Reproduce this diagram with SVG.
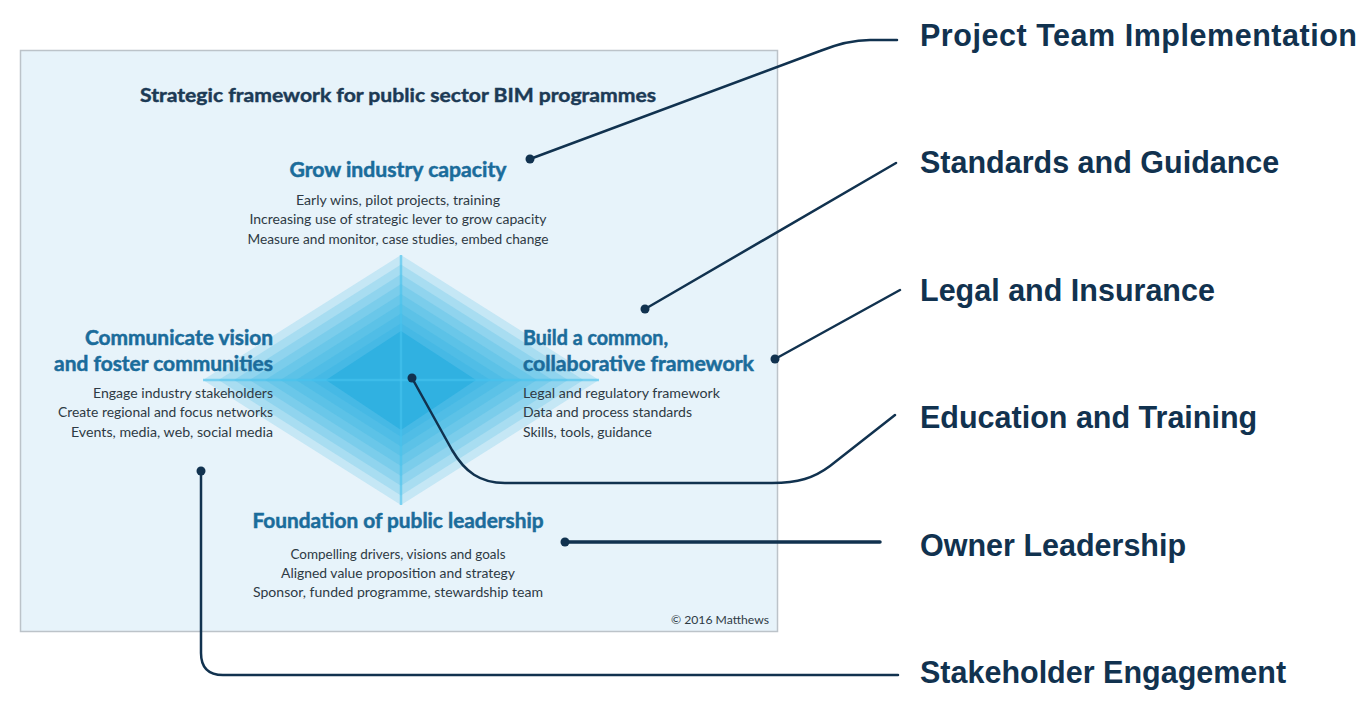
<svg xmlns="http://www.w3.org/2000/svg" width="1370" height="720" viewBox="0 0 1370 720">
<style>
.title{font-family:Lato,"Open Sans","Liberation Sans",sans-serif;font-weight:700;font-size:19.5px;fill:#1c3a55;stroke:#1c3a55;stroke-width:0.45}
.head{font-family:Lato,"Open Sans","Liberation Sans",sans-serif;font-weight:700;font-size:20px;fill:#1b6c9b;stroke:#1b6c9b;stroke-width:0.5}
.body{font-family:Lato,"Open Sans","Liberation Sans",sans-serif;font-size:13.5px;fill:#2e3a44}
.copy{font-family:Lato,"Open Sans","Liberation Sans",sans-serif;font-size:11.5px;fill:#2e3a44}
.label{font-family:"Liberation Sans",Arial,sans-serif;font-weight:700;font-size:30.5px;fill:#11324f}
.conn{fill:none;stroke:#11324f;stroke-width:2.5;stroke-linecap:round;stroke-linejoin:round}
.dot{fill:#11324f}
.lay{fill:#14a7de;fill-opacity:0.16}
</style>
<rect width="1370" height="720" fill="#ffffff"/>
<g id="panel">
<rect x="20.5" y="50.5" width="757" height="581" fill="#e7f3fa" stroke="#bcc3c9" stroke-width="1.5"/>
</g>
<g id="diamond">
<polygon class="lay" points="401,255 599,380 401,505 203,380"/>
<polygon class="lay" points="401,264.5 583.5,380 401,495.5 218.5,380"/>
<polygon class="lay" points="401,274.3 568,380 401,485.7 234,380"/>
<polygon class="lay" points="401,284.1 552.5,380 401,475.9 249.5,380"/>
<polygon class="lay" points="401,293.9 537,380 401,466.1 265,380"/>
<polygon class="lay" points="401,303.7 521.5,380 401,456.3 280.5,380"/>
<polygon class="lay" points="401,313.5 506,380 401,446.5 296,380"/>
<polygon class="lay" points="401,323.3 490.5,380 401,436.7 311.5,380"/>
<polygon points="401,331 476,380 401,430 326,380" fill="#0ea4dc" fill-opacity="0.4"/>
<line x1="401" y1="255" x2="401" y2="505" stroke="#46c3ef" stroke-width="2.5" stroke-opacity="0.6"/>
<line x1="203" y1="380" x2="599" y2="380" stroke="#46c3ef" stroke-width="2.5" stroke-opacity="0.6"/>
</g>
<g id="title">
<text class="title" x="398" y="102" text-anchor="middle" textLength="516" lengthAdjust="spacingAndGlyphs">Strategic framework for public sector BIM programmes</text>
</g>
<g id="node-grow">
<text class="head" x="398" y="177" text-anchor="middle" textLength="217" lengthAdjust="spacingAndGlyphs">Grow industry capacity</text>
<text class="body" x="398" y="205" text-anchor="middle" textLength="204" lengthAdjust="spacingAndGlyphs">Early wins, pilot projects, training</text>
<text class="body" x="398" y="224" text-anchor="middle" textLength="297" lengthAdjust="spacingAndGlyphs">Increasing use of strategic lever to grow capacity</text>
<text class="body" x="398" y="244" text-anchor="middle" textLength="301" lengthAdjust="spacingAndGlyphs">Measure and monitor, case studies, embed change</text>
</g>
<g id="node-communicate">
<text class="head" x="273" y="345" text-anchor="end" textLength="188" lengthAdjust="spacingAndGlyphs">Communicate vision</text>
<text class="head" x="273" y="371" text-anchor="end" textLength="219" lengthAdjust="spacingAndGlyphs">and foster communities</text>
<text class="body" x="273" y="398" text-anchor="end" textLength="180" lengthAdjust="spacingAndGlyphs">Engage industry stakeholders</text>
<text class="body" x="273" y="417" text-anchor="end" textLength="215" lengthAdjust="spacingAndGlyphs">Create regional and focus networks</text>
<text class="body" x="273" y="437" text-anchor="end" textLength="202" lengthAdjust="spacingAndGlyphs">Events, media, web, social media</text>
</g>
<g id="node-build">
<text class="head" x="523" y="345" textLength="145" lengthAdjust="spacingAndGlyphs">Build a common,</text>
<text class="head" x="523" y="371" textLength="231" lengthAdjust="spacingAndGlyphs">collaborative framework</text>
<text class="body" x="523" y="398" textLength="197" lengthAdjust="spacingAndGlyphs">Legal and regulatory framework</text>
<text class="body" x="523" y="417" textLength="169" lengthAdjust="spacingAndGlyphs">Data and process standards</text>
<text class="body" x="523" y="437" textLength="129" lengthAdjust="spacingAndGlyphs">Skills, tools, guidance</text>
</g>
<g id="node-foundation">
<text class="head" x="398" y="528" text-anchor="middle" textLength="291" lengthAdjust="spacingAndGlyphs">Foundation of public leadership</text>
<text class="body" x="398" y="559" text-anchor="middle" textLength="215" lengthAdjust="spacingAndGlyphs">Compelling drivers, visions and goals</text>
<text class="body" x="398" y="578" text-anchor="middle" textLength="234" lengthAdjust="spacingAndGlyphs">Aligned value proposition and strategy</text>
<text class="body" x="398" y="597" text-anchor="middle" textLength="290" lengthAdjust="spacingAndGlyphs">Sponsor, funded programme, stewardship team</text>
</g>
<g id="copyright">
<text class="copy" x="769" y="624" text-anchor="end" textLength="98" lengthAdjust="spacingAndGlyphs">© 2016 Matthews</text>
</g>
<g id="connectors">
<path class="conn" d="M530,159 L820,51 C840,43 855,40 870,40 L897,40"/>
<path class="conn" d="M645,309 L896,163"/>
<path class="conn" d="M775,359 L900,290"/>
<path class="conn" d="M412,378 L452,450 C465,472 480,483 505,483 L772,483 C798,483 814,478 830,466 L895,415"/>
<path class="conn" d="M565,542 L880,542" style="stroke-width:3.5"/>
<path class="conn" d="M201,471 L201,653 Q201,675 223,675 L898,675"/>
<circle class="dot" cx="530" cy="159" r="4.5"/>
<circle class="dot" cx="645" cy="309" r="4.5"/>
<circle class="dot" cx="775" cy="359" r="4.5"/>
<circle class="dot" cx="412" cy="378" r="4.5"/>
<circle class="dot" cx="565" cy="542" r="4.5"/>
<circle class="dot" cx="201" cy="471" r="4.5"/>
</g>
<g id="label-project"><text class="label" x="920" y="46" textLength="437">Project Team Implementation</text></g>
<g id="label-standards"><text class="label" x="920" y="173">Standards and Guidance</text></g>
<g id="label-legal"><text class="label" x="920" y="301">Legal and Insurance</text></g>
<g id="label-education"><text class="label" x="920" y="428">Education and Training</text></g>
<g id="label-owner"><text class="label" x="920" y="556">Owner Leadership</text></g>
<g id="label-stakeholder"><text class="label" x="920" y="683">Stakeholder Engagement</text></g>
</svg>
